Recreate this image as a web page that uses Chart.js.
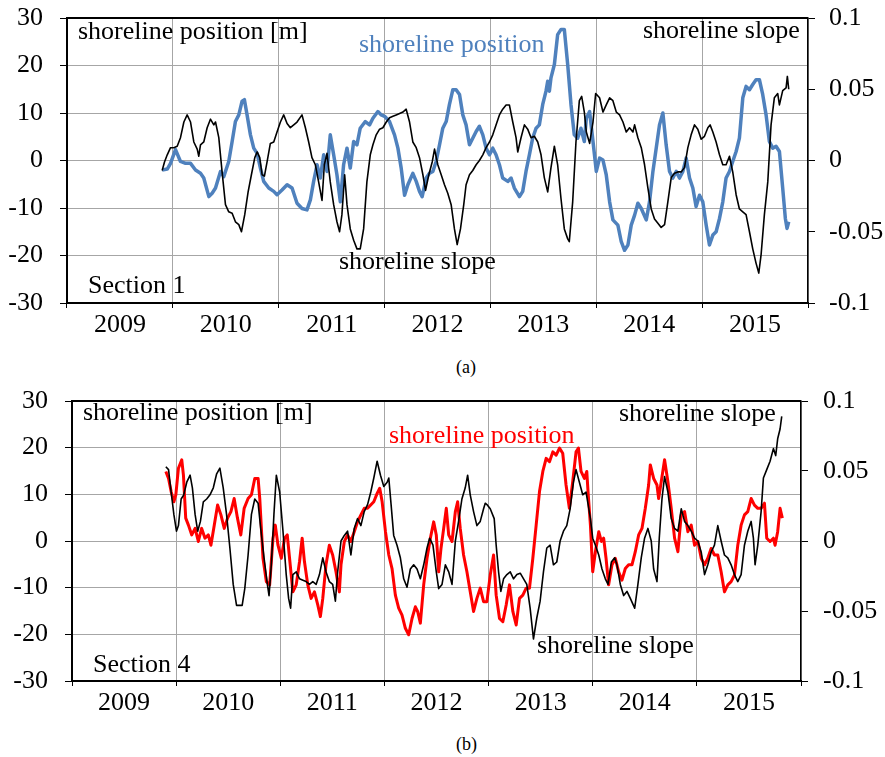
<!DOCTYPE html>
<html>
<head>
<meta charset="utf-8">
<script src="https://cdn.jsdelivr.net/npm/chart.js@4.4.1/dist/chart.umd.min.js"></script>
<style>
  html, body { margin: 0; padding: 0; background: #fff; }
  #page { position: relative; width: 885px; height: 757px; overflow: hidden;
          font-family: 'Liberation Serif', 'Times New Roman', serif; color: #000; }
  #page canvas { position: absolute; left: 0; }
  .lbl { position: absolute; font-size: 26px; line-height: 26px; white-space: nowrap; }
  .cap { position: absolute; font-size: 18px; line-height: 18px; white-space: nowrap; }
</style>
</head>
<body>
<div id="page">
  <canvas id="chartA" width="885" height="345" style="top:0"></canvas>
  <canvas id="chartB" width="885" height="345" style="top:380px"></canvas>

  <div class="lbl" style="left:78px;top:18px">shoreline position [m]</div>
  <div class="lbl" style="left:359px;top:31px;color:#4f81bd">shoreline position</div>
  <div class="lbl" style="left:643px;top:17px">shoreline slope</div>
  <div class="lbl" style="left:339px;top:248px">shoreline slope</div>
  <div class="lbl" style="left:88px;top:272px">Section 1</div>
  <div class="cap" style="left:456px;top:358px">(a)</div>

  <div class="lbl" style="left:83px;top:399px">shoreline position [m]</div>
  <div class="lbl" style="left:389px;top:422px;color:#ff0000">shoreline position</div>
  <div class="lbl" style="left:619px;top:400px">shoreline slope</div>
  <div class="lbl" style="left:537px;top:632px">shoreline slope</div>
  <div class="lbl" style="left:93px;top:651px">Section 4</div>
  <div class="cap" style="left:456px;top:735px">(b)</div>
</div>
<script>
// year labels under the x axis
var yearLabels = ['2009', '2010', '2011', '2012', '2013', '2014', '2015'];

// Section 1: shoreline position [m], [decimal year, value]
var positionS1 = [
  [2009.899,-2.0],[2009.947,-1.8],[2009.978,-0.6],[2010.025,2.3],[2010.072,-0.2],[2010.120,-0.6],[2010.167,-0.6],
  [2010.214,-2.0],[2010.261,-2.7],[2010.292,-3.7],[2010.340,-7.6],[2010.371,-6.9],[2010.403,-5.8],[2010.450,-2.3],
  [2010.481,-3.4],[2010.528,-0.2],[2010.560,4.0],[2010.591,8.2],[2010.623,9.6],[2010.654,12.5],[2010.676,12.8],
  [2010.701,9.6],[2010.733,5.4],[2010.764,2.6],[2010.796,1.5],[2010.827,-1.6],[2010.858,-4.4],[2010.906,-5.8],
  [2010.953,-6.5],[2010.984,-7.2],[2011.031,-6.2],[2011.079,-5.1],[2011.126,-5.8],[2011.173,-9.0],[2011.220,-10.1],
  [2011.267,-10.4],[2011.299,-8.3],[2011.330,-4.4],[2011.362,-0.9],[2011.393,-3.7],[2011.425,1.2],[2011.456,-2.3],
  [2011.487,5.4],[2011.519,1.2],[2011.550,-3.0],[2011.582,-8.7],[2011.613,-0.9],[2011.645,2.6],[2011.676,-1.6],
  [2011.708,4.0],[2011.739,3.3],[2011.770,6.8],[2011.818,8.2],[2011.858,7.5],[2011.890,8.9],[2011.937,10.3],
  [2011.969,9.6],[2012.000,9.3],[2012.047,8.2],[2012.094,5.4],[2012.126,2.6],[2012.157,-1.6],[2012.189,-7.3],
  [2012.220,-5.1],[2012.267,-2.7],[2012.299,-4.4],[2012.330,-6.5],[2012.355,-7.6],[2012.393,-3.7],[2012.424,-2.7],
  [2012.456,-2.3],[2012.487,-0.2],[2012.519,3.3],[2012.550,6.8],[2012.582,8.2],[2012.613,11.8],[2012.645,14.9],
  [2012.676,14.9],[2012.708,13.9],[2012.739,9.6],[2012.770,7.5],[2012.802,3.3],[2012.833,4.7],[2012.865,6.1],
  [2012.896,7.2],[2012.928,5.4],[2012.959,2.6],[2012.991,1.2],[2013.022,2.6],[2013.053,1.2],[2013.085,-0.9],
  [2013.116,-3.7],[2013.164,-4.4],[2013.195,-3.7],[2013.226,-5.8],[2013.274,-7.6],[2013.305,-6.5],[2013.336,-2.3],
  [2013.368,1.2],[2013.399,4.7],[2013.431,6.8],[2013.462,7.5],[2013.494,11.8],[2013.525,14.6],[2013.541,16.7],
  [2013.557,14.6],[2013.572,17.4],[2013.604,20.2],[2013.635,26.5],[2013.667,27.6],[2013.698,27.6],[2013.730,20.2],
  [2013.761,11.8],[2013.792,5.4],[2013.824,4.7],[2013.855,6.8],[2013.887,4.0],[2013.906,8.9],[2013.937,10.3],
  [2013.969,4.0],[2014.000,-2.3],[2014.031,0.5],[2014.063,0.1],[2014.094,-3.0],[2014.126,-8.7],[2014.157,-12.5],
  [2014.204,-13.6],[2014.236,-17.1],[2014.267,-18.9],[2014.299,-17.8],[2014.330,-13.6],[2014.362,-11.5],[2014.393,-9.0],
  [2014.425,-10.1],[2014.472,-12.5],[2014.503,-8.7],[2014.535,-2.3],[2014.566,2.6],[2014.597,7.5],[2014.629,10.0],
  [2014.660,3.3],[2014.692,-2.3],[2014.723,-3.7],[2014.755,-2.3],[2014.786,-3.7],[2014.818,-2.3],[2014.849,0.5],
  [2014.881,-3.7],[2014.912,-5.8],[2014.943,-9.7],[2014.975,-7.3],[2015.006,-8.7],[2015.038,-13.6],[2015.069,-17.8],
  [2015.101,-15.7],[2015.132,-15.0],[2015.164,-12.2],[2015.195,-8.7],[2015.226,-3.7],[2015.258,-2.3],[2015.289,-0.2],
  [2015.321,1.9],[2015.352,4.7],[2015.384,13.2],[2015.415,15.6],[2015.447,14.9],[2015.478,16.0],[2015.509,17.0],
  [2015.541,17.0],[2015.572,13.9],[2015.604,9.6],[2015.635,4.0],[2015.667,2.6],[2015.698,3.0],[2015.730,1.9],
  [2015.761,-5.8],[2015.786,-12.2],[2015.802,-14.3],[2015.818,-12.9]
];

// Section 1: shoreline slope (right axis)
var slopeS1 = [
  [2009.899,-0.007],[2009.921,-0.001],[2009.947,0.004],[2009.978,0.009],[2010.009,0.009],[2010.041,0.010],[2010.072,0.016],
  [2010.104,0.027],[2010.135,0.032],[2010.167,0.027],[2010.198,0.013],[2010.230,0.008],[2010.245,0.003],[2010.261,0.011],
  [2010.292,0.013],[2010.324,0.023],[2010.355,0.029],[2010.387,0.025],[2010.403,0.027],[2010.434,0.016],[2010.465,-0.008],
  [2010.497,-0.031],[2010.528,-0.036],[2010.560,-0.037],[2010.591,-0.043],[2010.623,-0.045],[2010.648,-0.050],[2010.679,-0.038],
  [2010.711,-0.022],[2010.742,-0.010],[2010.774,0.002],[2010.796,0.006],[2010.821,0.002],[2010.843,-0.010],[2010.865,-0.011],
  [2010.890,-0.001],[2010.921,0.012],[2010.953,0.013],[2010.984,0.020],[2011.016,0.027],[2011.047,0.032],[2011.079,0.026],
  [2011.110,0.023],[2011.142,0.025],[2011.173,0.027],[2011.220,0.032],[2011.252,0.023],[2011.283,0.013],[2011.314,0.002],
  [2011.346,-0.003],[2011.377,-0.015],[2011.409,-0.028],[2011.431,-0.003],[2011.456,0.005],[2011.487,-0.015],[2011.519,-0.031],
  [2011.550,-0.043],[2011.575,-0.050],[2011.597,-0.038],[2011.623,-0.010],[2011.645,-0.031],[2011.676,-0.048],[2011.708,-0.056],
  [2011.739,-0.062],[2011.770,-0.062],[2011.802,-0.048],[2011.833,-0.015],[2011.865,0.004],[2011.890,0.011],[2011.921,0.018],
  [2011.953,0.022],[2011.984,0.023],[2012.016,0.027],[2012.047,0.030],[2012.079,0.031],[2012.110,0.032],[2012.142,0.033],
  [2012.173,0.034],[2012.204,0.036],[2012.236,0.027],[2012.267,0.013],[2012.299,0.009],[2012.330,0.002],[2012.362,-0.010],
  [2012.387,-0.021],[2012.418,-0.010],[2012.450,-0.001],[2012.472,0.008],[2012.503,-0.003],[2012.535,-0.010],[2012.566,-0.017],
  [2012.597,-0.023],[2012.629,-0.031],[2012.660,-0.048],[2012.686,-0.059],[2012.717,-0.048],[2012.748,-0.031],[2012.770,-0.017],
  [2012.802,-0.010],[2012.833,-0.007],[2012.865,-0.003],[2012.896,0.000],[2012.928,0.004],[2012.959,0.009],[2012.991,0.013],
  [2013.022,0.018],[2013.053,0.025],[2013.085,0.032],[2013.116,0.036],[2013.148,0.039],[2013.179,0.039],[2013.211,0.027],
  [2013.242,0.016],[2013.258,0.006],[2013.289,0.016],[2013.321,0.025],[2013.352,0.022],[2013.384,0.016],[2013.415,0.017],
  [2013.447,0.013],[2013.478,0.004],[2013.509,-0.012],[2013.541,-0.022],[2013.572,-0.005],[2013.604,0.010],[2013.635,-0.003],
  [2013.667,-0.027],[2013.698,-0.048],[2013.730,-0.055],[2013.745,-0.057],[2013.777,-0.029],[2013.808,0.013],[2013.840,0.042],
  [2013.862,0.045],[2013.887,0.034],[2013.906,0.020],[2013.937,0.012],[2013.969,0.027],[2013.994,0.047],[2014.031,0.044],
  [2014.063,0.034],[2014.094,0.039],[2014.126,0.044],[2014.157,0.042],[2014.189,0.034],[2014.220,0.032],[2014.252,0.027],
  [2014.283,0.020],[2014.314,0.023],[2014.346,0.020],[2014.362,0.025],[2014.393,0.016],[2014.425,0.009],[2014.456,-0.003],
  [2014.487,-0.019],[2014.519,-0.034],[2014.550,-0.041],[2014.582,-0.044],[2014.613,-0.047],[2014.645,-0.045],[2014.676,-0.029],
  [2014.708,-0.012],[2014.739,-0.009],[2014.770,-0.008],[2014.802,-0.008],[2014.833,-0.005],[2014.865,0.009],[2014.896,0.018],
  [2014.928,0.025],[2014.959,0.022],[2014.991,0.015],[2015.022,0.017],[2015.054,0.023],[2015.075,0.025],[2015.101,0.020],
  [2015.132,0.013],[2015.164,0.004],[2015.195,-0.003],[2015.226,-0.003],[2015.258,0.003],[2015.289,-0.008],[2015.321,-0.024],
  [2015.352,-0.034],[2015.384,-0.036],[2015.415,-0.038],[2015.447,-0.050],[2015.478,-0.062],[2015.509,-0.072],[2015.535,-0.079],
  [2015.557,-0.066],[2015.588,-0.038],[2015.620,-0.015],[2015.651,0.025],[2015.682,0.044],[2015.714,0.047],[2015.730,0.039],
  [2015.761,0.049],[2015.793,0.051],[2015.805,0.059],[2015.818,0.050]
];

// Section 4: shoreline position [m]
var positionS4 = [
  [2009.901,14.9],[2009.927,13.4],[2009.952,10.6],[2009.978,8.4],[2009.997,9.9],[2010.022,15.6],[2010.054,17.4],
  [2010.070,14.1],[2010.092,4.9],[2010.118,3.4],[2010.150,1.3],[2010.182,2.7],[2010.213,-0.1],[2010.245,2.7],
  [2010.277,0.6],[2010.309,1.3],[2010.334,-0.9],[2010.366,3.4],[2010.398,7.7],[2010.430,5.6],[2010.462,2.7],
  [2010.494,4.9],[2010.526,6.3],[2010.557,9.1],[2010.589,4.9],[2010.621,1.3],[2010.653,7.0],[2010.691,9.1],
  [2010.723,9.9],[2010.755,13.4],[2010.787,13.4],[2010.803,9.1],[2010.834,-3.7],[2010.866,-8.7],[2010.898,-9.4],
  [2010.930,0.6],[2010.952,3.4],[2010.978,-0.9],[2011.010,-3.7],[2011.041,0.6],[2011.067,1.3],[2011.089,-3.7],
  [2011.121,-10.9],[2011.153,-9.4],[2011.185,-4.4],[2011.210,0.6],[2011.232,-4.4],[2011.264,-9.4],[2011.296,-12.3],
  [2011.328,-10.9],[2011.360,-13.7],[2011.385,-16.2],[2011.408,-12.3],[2011.439,-5.1],[2011.471,-0.9],[2011.503,-3.0],
  [2011.535,-6.6],[2011.567,-10.9],[2011.583,-5.1],[2011.615,-0.1],[2011.646,1.3],[2011.678,-0.1],[2011.710,2.0],
  [2011.742,4.1],[2011.774,5.6],[2011.806,7.0],[2011.838,7.0],[2011.898,8.4],[2011.930,10.2],[2011.955,11.3],
  [2011.978,8.4],[2012.010,2.0],[2012.042,-3.0],[2012.073,-5.9],[2012.105,-11.6],[2012.137,-14.4],[2012.169,-15.9],
  [2012.201,-18.7],[2012.233,-20.1],[2012.265,-16.6],[2012.297,-14.1],[2012.319,-15.1],[2012.345,-17.6],[2012.377,-9.4],
  [2012.409,-3.7],[2012.441,0.6],[2012.473,4.1],[2012.498,1.3],[2012.521,-6.6],[2012.543,-1.6],[2012.569,2.7],
  [2012.594,7.0],[2012.617,1.3],[2012.649,-0.1],[2012.681,6.3],[2012.703,8.4],[2012.728,2.7],[2012.760,-3.0],
  [2012.792,-6.6],[2012.824,-10.9],[2012.856,-15.1],[2012.888,-12.3],[2012.920,-10.1],[2012.952,-13.0],[2012.984,-13.0],
  [2013.016,-7.3],[2013.048,-3.0],[2013.073,-11.6],[2013.105,-16.6],[2013.137,-17.3],[2013.169,-13.7],[2013.201,-9.4],
  [2013.233,-15.1],[2013.265,-18.0],[2013.297,-12.3],[2013.329,-11.6],[2013.361,-10.1],[2013.393,-10.1],[2013.425,-3.7],
  [2013.457,3.4],[2013.489,10.6],[2013.521,14.9],[2013.553,17.7],[2013.585,17.0],[2013.617,19.1],[2013.649,18.4],
  [2013.681,19.9],[2013.712,18.8],[2013.744,12.0],[2013.776,7.0],[2013.808,12.7],[2013.840,19.1],[2013.863,19.9],
  [2013.888,14.9],[2013.920,13.4],[2013.943,14.9],[2013.955,10.6],[2013.978,3.4],[2014.000,-6.6],[2014.026,-2.3],
  [2014.058,2.0],[2014.083,-0.1],[2014.105,0.6],[2014.128,-3.7],[2014.153,-9.4],[2014.185,-5.1],[2014.217,-3.7],
  [2014.249,-6.6],[2014.281,-8.4],[2014.313,-5.9],[2014.345,-5.1],[2014.377,-5.1],[2014.409,-2.3],[2014.441,1.3],
  [2014.473,2.7],[2014.505,7.0],[2014.537,12.0],[2014.553,16.3],[2014.585,13.4],[2014.617,12.0],[2014.633,9.1],
  [2014.658,12.7],[2014.690,17.4],[2014.722,12.7],[2014.754,7.0],[2014.786,0.6],[2014.818,-2.3],[2014.850,5.6],
  [2014.882,6.3],[2014.914,2.0],[2014.946,3.4],[2014.978,-0.9],[2015.010,-0.1],[2015.042,-3.7],[2015.074,-5.1],
  [2015.105,-3.7],[2015.137,-1.6],[2015.169,-3.0],[2015.201,-3.0],[2015.233,-6.6],[2015.265,-10.9],[2015.297,-9.4],
  [2015.329,-8.7],[2015.361,-7.3],[2015.393,-0.9],[2015.425,3.4],[2015.457,5.6],[2015.489,6.3],[2015.521,9.1],
  [2015.553,7.7],[2015.585,7.0],[2015.617,7.0],[2015.649,8.1],[2015.671,0.6],[2015.703,-0.1],[2015.735,0.6],
  [2015.751,-0.9],[2015.776,2.0],[2015.799,7.0],[2015.821,4.9]
];

// Section 4: shoreline slope (right axis)
var slopeS4 = [
  [2009.901,0.053],[2009.927,0.051],[2009.952,0.035],[2009.978,0.019],[2010.003,0.007],[2010.022,0.011],[2010.048,0.030],
  [2010.073,0.033],[2010.102,0.042],[2010.134,0.047],[2010.156,0.038],[2010.182,0.019],[2010.207,0.007],[2010.233,0.014],
  [2010.261,0.028],[2010.293,0.030],[2010.325,0.033],[2010.357,0.038],[2010.389,0.048],[2010.420,0.052],[2010.452,0.038],
  [2010.484,0.019],[2010.516,-0.005],[2010.548,-0.031],[2010.580,-0.046],[2010.611,-0.046],[2010.634,-0.046],[2010.659,-0.034],
  [2010.691,-0.010],[2010.723,0.019],[2010.755,0.030],[2010.787,0.027],[2010.812,0.009],[2010.844,-0.012],[2010.876,-0.031],
  [2010.892,-0.039],[2010.914,-0.017],[2010.939,0.019],[2010.962,0.047],[2010.994,0.035],[2011.026,0.007],[2011.057,-0.024],
  [2011.080,-0.041],[2011.099,-0.048],[2011.121,-0.024],[2011.153,-0.022],[2011.185,-0.027],[2011.217,-0.028],[2011.248,-0.029],
  [2011.280,-0.031],[2011.312,-0.029],[2011.344,-0.031],[2011.376,-0.024],[2011.408,-0.012],[2011.439,-0.022],[2011.471,-0.029],
  [2011.503,-0.031],[2011.529,-0.043],[2011.551,-0.022],[2011.583,0.000],[2011.615,0.004],[2011.646,0.007],[2011.678,-0.010],
  [2011.710,0.009],[2011.742,0.016],[2011.774,0.011],[2011.806,0.021],[2011.838,0.026],[2011.869,0.035],[2011.898,0.045],
  [2011.930,0.057],[2011.962,0.047],[2011.994,0.039],[2012.026,0.042],[2012.042,0.045],[2012.064,0.026],[2012.089,0.004],
  [2012.121,-0.003],[2012.153,-0.012],[2012.185,-0.027],[2012.217,-0.033],[2012.249,-0.020],[2012.281,-0.017],[2012.313,-0.020],
  [2012.345,-0.027],[2012.377,-0.017],[2012.409,-0.005],[2012.434,0.002],[2012.466,-0.003],[2012.498,-0.022],[2012.521,-0.034],
  [2012.553,-0.031],[2012.585,-0.017],[2012.617,-0.022],[2012.649,-0.031],[2012.681,0.000],[2012.712,0.014],[2012.744,0.030],
  [2012.776,0.038],[2012.799,0.047],[2012.824,0.033],[2012.856,0.021],[2012.888,0.011],[2012.920,0.014],[2012.952,0.023],
  [2012.968,0.027],[2012.984,0.026],[2013.016,0.023],[2013.054,0.016],[2013.073,-0.003],[2013.096,-0.022],[2013.118,-0.036],
  [2013.144,-0.027],[2013.176,-0.024],[2013.208,-0.022],[2013.240,-0.027],[2013.272,-0.024],[2013.304,-0.023],[2013.336,-0.027],
  [2013.367,-0.031],[2013.399,-0.048],[2013.431,-0.070],[2013.463,-0.055],[2013.495,-0.043],[2013.527,-0.022],[2013.559,-0.005],
  [2013.591,-0.003],[2013.623,-0.017],[2013.655,-0.015],[2013.687,0.000],[2013.719,0.007],[2013.751,0.011],[2013.783,0.023],
  [2013.815,0.042],[2013.840,0.051],[2013.872,0.042],[2013.904,0.033],[2013.936,0.035],[2013.978,0.016],[2014.000,0.002],
  [2014.026,-0.003],[2014.058,-0.010],[2014.089,-0.020],[2014.121,-0.027],[2014.147,-0.031],[2014.179,-0.015],[2014.211,-0.012],
  [2014.233,-0.017],[2014.265,-0.031],[2014.297,-0.039],[2014.329,-0.036],[2014.361,-0.041],[2014.403,-0.048],[2014.434,-0.031],
  [2014.466,-0.012],[2014.498,0.002],[2014.530,0.009],[2014.562,0.000],[2014.585,-0.020],[2014.617,-0.029],[2014.639,0.002],
  [2014.665,0.030],[2014.690,0.046],[2014.722,0.035],[2014.754,0.016],[2014.786,0.009],[2014.818,0.007],[2014.850,0.023],
  [2014.882,0.014],[2014.914,0.011],[2014.946,0.007],[2014.978,0.002],[2015.010,0.000],[2015.042,-0.008],[2015.074,-0.024],
  [2015.105,-0.017],[2015.137,-0.008],[2015.169,-0.003],[2015.201,0.011],[2015.233,0.000],[2015.265,-0.010],[2015.297,-0.012],
  [2015.329,-0.017],[2015.361,-0.024],[2015.393,-0.029],[2015.425,-0.024],[2015.457,-0.003],[2015.489,0.007],[2015.521,0.014],
  [2015.543,0.002],[2015.559,-0.017],[2015.585,-0.003],[2015.617,0.021],[2015.639,0.045],[2015.671,0.051],[2015.703,0.057],
  [2015.735,0.066],[2015.757,0.061],[2015.776,0.073],[2015.799,0.080],[2015.815,0.089]
];

(function () {
  'use strict';

  var gridGray = '#a6a6a6';
  var serif = "'Liberation Serif', 'Times New Roman', serif";
  Chart.defaults.font.family = serif;
  Chart.defaults.color = '#000';

  function toPoints(rows) {
    return rows.map(function (r) { return { x: r[0], y: r[1] }; });
  }

  // black frame line along the top of the plot area
  var topFrame = {
    id: 'topFrame',
    afterDatasetsDraw: function (chart) {
      var a = chart.chartArea, c = chart.ctx;
      c.save();
      c.strokeStyle = '#000';
      c.lineWidth = 2;
      c.beginPath();
      c.moveTo(a.left, a.top);
      c.lineTo(a.right, a.top);
      c.stroke();
      c.restore();
    }
  };

  // fixed axis box size; drop the label overflow padding so the plot area sits where asked
  function fixWidth(w) {
    return function (s) { s.width = w; s.paddingTop = 0; s.paddingBottom = 0; };
  }

  function makeChart(id, pos, slope, color, width, g) {
    return new Chart(document.getElementById(id), {
      type: 'line',
      data: {
        labels: yearLabels,
        datasets: [
          {
            data: toPoints(slope), xAxisID: 'xd', yAxisID: 'y1',
            borderColor: '#000', borderWidth: 1.6, pointRadius: 0, tension: 0,
            borderJoinStyle: 'round'
          },
          {
            data: toPoints(pos), xAxisID: 'xd', yAxisID: 'y',
            borderColor: color, borderWidth: width, pointRadius: 0, tension: 0,
            borderJoinStyle: 'round'
          }
        ]
      },
      options: {
        responsive: false,
        animation: false,
        events: [],
        layout: { padding: { top: g.top, left: 0, right: 0, bottom: 0 } },
        plugins: { legend: { display: false }, tooltip: { enabled: false } },
        scales: {
          x: {
            type: 'category', position: 'bottom', offset: true,
            grid: { offset: true, color: gridGray, tickColor: '#000', tickLength: 5 },
            border: { color: '#000', width: 2 },
            ticks: { font: { size: 26 }, padding: 2, maxRotation: 0, autoSkip: false },
            afterFit: function (s) { s.height = g.bottom; s.paddingLeft = 0; s.paddingRight = 0; }
          },
          xd: { type: 'linear', display: false, min: 2009, max: 2016 },
          y: {
            position: 'left', min: -30, max: 30,
            grid: { color: gridGray, tickColor: '#000', tickLength: 7 },
            border: { color: '#000', width: 2 },
            ticks: { stepSize: 10, font: { size: 26 }, padding: 17,
                     callback: function (v) { return String(v); } },
            afterFit: fixWidth(g.left)
          },
          y1: {
            position: 'right', min: -0.1, max: 0.1,
            grid: { drawOnChartArea: false, tickColor: '#000', tickLength: 7 },
            border: { color: '#000', width: 1.5 },
            ticks: { stepSize: 0.05, font: { size: 26 }, padding: g.rpad,
                     callback: function (v) { return String(Math.round(v * 100) / 100); } },
            afterFit: fixWidth(g.right)
          }
        }
      },
      plugins: [topFrame]
    });
  }

  makeChart('chartA', positionS1, slopeS1, '#4f81bd', 3.5,
            { top: 18, bottom: 42, left: 67, right: 77, rpad: 14 });
  makeChart('chartB', positionS4, slopeS4, '#ff0000', 3,
            { top: 21, bottom: 44, left: 72, right: 84, rpad: 15 });
})();
</script>
</body>
</html>
